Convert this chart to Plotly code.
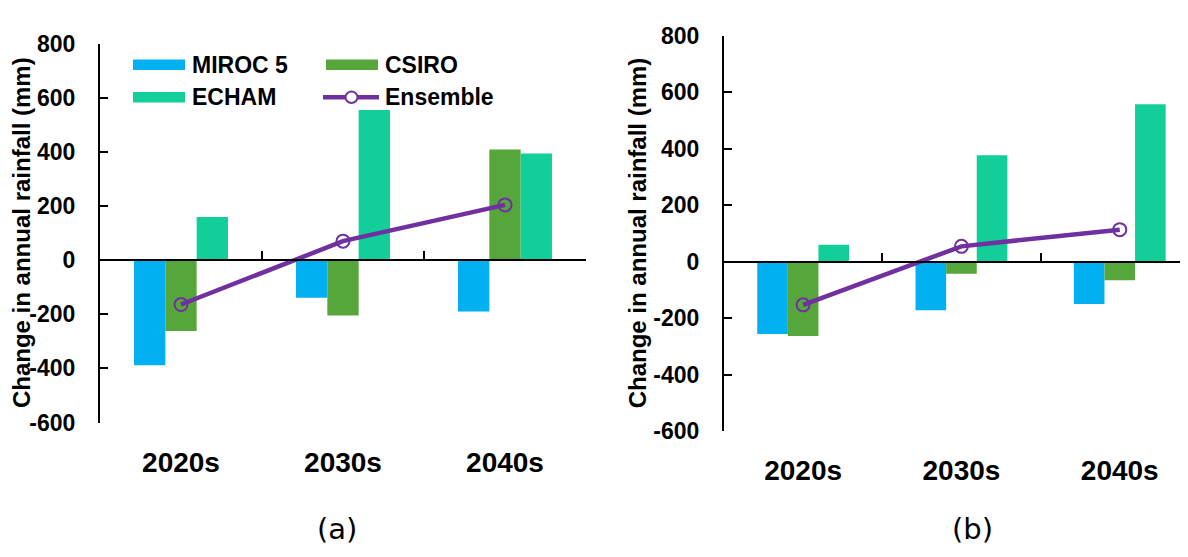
import plotly.graph_objects as go

# ---------------- data ----------------
periods = ["2020s", "2030s", "2040s"]
y_ticks = [-600, -400, -200, 0, 200, 400, 600, 800]

# panel (a)
miroc_a = [-388, -139, -190]
csiro_a = [-262, -205, 409]
echam_a = [159, 555, 394]
ensemble_a = [-164, 70, 204]

# panel (b)
miroc_b = [-256, -172, -150]
csiro_b = [-263, -43, -66]
echam_b = [60, 376, 557]
ensemble_b = [-153, 54, 113]

series_names = ["MIROC 5", "CSIRO", "ECHAM", "Ensemble"]
y_title = "Change in annual rainfall (mm)"
panel_labels = ["(a)", "(b)"]

# ---------------- style ----------------
C_MIROC = "#00B0F0"
C_CSIRO = "#56A63C"
C_ECHAM = "#12CF9A"
C_ENS = "#7030A0"
BOLD = "Arial, Liberation Sans, sans-serif"

# the page body adds an 8px margin; size the figure so it fits the window
OFF = 8
W, H = 1188 - OFF, 557 - OFF


def px(x):
    return (x - OFF) / W


def py(y):
    return 1 - (y - OFF) / H


YMIN, YMAX = -600, 800
dom_a = [py(429.5), py(31.7)]
dom_b = [py(438.5), py(23.3)]
xr_a = [-0.5, 2.5]
xr_b = [-0.5, -0.5 + (1188 - 724) / 158.3]


def zero_pos(dom):
    return dom[0] + (0 - YMIN) / (YMAX - YMIN) * (dom[1] - dom[0])


fig = go.Figure()

panels = [
    ("x", "y", "x3", miroc_a, csiro_a, echam_a, ensemble_a),
    ("x2", "y2", "x4", miroc_b, csiro_b, echam_b, ensemble_b),
]
for xa, ya, xo, mi, cs, ec, en in panels:
    for name, vals, col in [(series_names[0], mi, C_MIROC),
                            (series_names[1], cs, C_CSIRO),
                            (series_names[2], ec, C_ECHAM)]:
        fig.add_trace(go.Bar(x=periods, y=vals, name=name, marker_color=col,
                             marker_line_width=0, xaxis=xa, yaxis=ya,
                             showlegend=False))
    fig.add_trace(go.Scatter(x=periods, y=en, name=series_names[3],
                             mode="lines+markers",
                             line=dict(color=C_ENS, width=4.5),
                             marker=dict(symbol="circle-open", size=13,
                                         color=C_ENS, line=dict(width=2)),
                             xaxis=xa, yaxis=ya, showlegend=False))
    # empty helper trace so the zero-line axis subplot exists
    fig.add_trace(go.Scatter(x=[], y=[], xaxis=xo, yaxis=ya,
                             showlegend=False, hoverinfo="skip"))

cat_axis = dict(type="category", showline=False, ticks="", showgrid=False,
                zeroline=False,
                tickfont=dict(family=BOLD, size=28, color="black", weight="bold"),
                ticklabelstandoff=20)
val_axis = dict(range=[YMIN, YMAX], tickvals=y_ticks,
                ticktext=[str(v) for v in y_ticks],
                ticks="inside", ticklen=8,
                tickwidth=2, tickcolor="black", showline=True, linewidth=2,
                linecolor="black", showgrid=False, zeroline=False,
                tickfont=dict(family=BOLD, size=23, color="black", weight="bold"),
                ticklabelstandoff=18)
zero_axis = dict(type="linear", anchor="free", showticklabels=False,
                 ticks="inside", ticklen=8, tickwidth=2, tickcolor="black",
                 showline=True, linewidth=2, linecolor="black",
                 showgrid=False, zeroline=False)

fig.update_layout(
    xaxis=dict(cat_axis, domain=[px(100), px(586)], anchor="y", range=xr_a),
    yaxis=dict(val_axis, domain=dom_a, anchor="x"),
    xaxis2=dict(cat_axis, domain=[px(724), 1.0], anchor="y2", range=xr_b),
    yaxis2=dict(val_axis, domain=dom_b, anchor="x2"),
    xaxis3=dict(zero_axis, overlaying="x", position=zero_pos(dom_a),
                range=xr_a, tickvals=[0.5, 1.5, 2.5]),
    xaxis4=dict(zero_axis, overlaying="x2", position=zero_pos(dom_b),
                range=xr_b, tickvals=[0.5, 1.5, 2.5]),
    barmode="group", bargap=0.42, bargroupgap=0,
    width=W, height=H, margin=dict(l=0, r=0, t=0, b=0),
    paper_bgcolor="white", plot_bgcolor="white",
    showlegend=False,
)

# y-axis titles and panel labels
for xc, dom in [(21, dom_a), (637, dom_b)]:
    fig.add_annotation(text=y_title, textangle=-90, xref="paper", yref="paper",
                       x=px(xc), y=(dom[0] + dom[1]) / 2, showarrow=False,
                       xanchor="center", yanchor="middle",
                       font=dict(family=BOLD, size=24, color="black", weight="bold"))
for lbl, xc in zip(panel_labels, [337, 972]):
    fig.add_annotation(text=lbl, xref="paper", yref="paper", x=px(xc), y=py(541),
                       showarrow=False, xanchor="center", yanchor="middle",
                       font=dict(family="DejaVu Sans", size=29, color="black"))

# legend (drawn manually to match the wide swatches)
leg_rows = [(series_names[0], C_MIROC, 133, 54), (series_names[1], C_CSIRO, 326, 54),
            (series_names[2], C_ECHAM, 133, 88)]
for name, col, x0, yc in leg_rows:
    fig.add_shape(type="rect", xref="paper", yref="paper",
                  x0=px(x0), x1=px(x0 + 52), y0=py(yc + 5.5), y1=py(yc - 5.5),
                  fillcolor=col, line_width=0)
    fig.add_annotation(text=name, xref="paper", yref="paper", x=px(x0 + 57),
                       y=py(yc), showarrow=False, xanchor="left", yanchor="middle",
                       font=dict(family=BOLD, size=23, color="black", weight="bold"))
fig.add_shape(type="line", xref="paper", yref="paper", x0=px(323), x1=px(379),
              y0=py(88), y1=py(88), line=dict(color=C_ENS, width=4.5))
fig.add_shape(type="circle", xref="paper", yref="paper", x0=px(345.5), x1=px(357.5),
              y0=py(94), y1=py(82), fillcolor="white", line=dict(color=C_ENS, width=2))
fig.add_annotation(text=series_names[3], xref="paper", yref="paper", x=px(383),
                   y=py(88), showarrow=False, xanchor="left", yanchor="middle",
                   font=dict(family=BOLD, size=23, color="black", weight="bold"))

fig.write_html("out.html")
